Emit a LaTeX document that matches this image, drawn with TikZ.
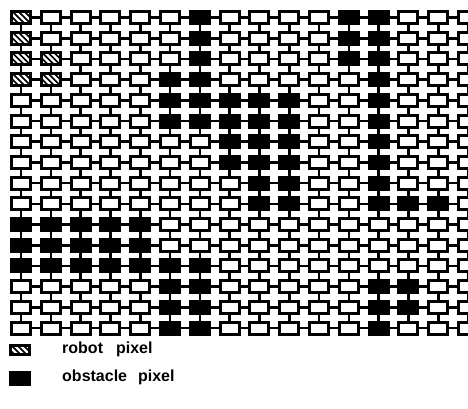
\documentclass[tikz,border=0pt]{standalone}
\usepackage{fontspec}
\setmainfont{Liberation Sans}
\begin{document}
\begin{tikzpicture}[x=1pt,y=-1pt,
  cell/.style={draw=black, line width=3pt, fill=white, rectangle,
    minimum width=19pt, minimum height=12pt, inner sep=0pt, outer sep=1.5pt},
  obst/.style={cell, fill=black},
  robotcell/.style={cell, fill=black, path picture={
      \foreach \k in {-3,...,4}{
        \draw[white, line width=2.3pt]
          ([xshift=\k*6pt-4pt, yshift=2pt]path picture bounding box.north west) -- ++(18pt,-18pt);
      }}},
  link/.style={line width=2.6pt, draw=black},
  legtext/.style={anchor=west, inner sep=0pt, font=\fontsize{16}{19}\selectfont\bfseries}]
\useasboundingbox (0,0) rectangle (468,408);
% obstacle and robot pixels
\foreach \p in {6-0,11-0,12-0, 6-1,11-1,12-1, 6-2,11-2,12-2,
  5-3,6-3,12-3, 5-4,6-4,7-4,8-4,9-4,12-4, 5-5,6-5,7-5,8-5,9-5,12-5,
  7-6,8-6,9-6,12-6, 7-7,8-7,9-7,12-7, 8-8,9-8,12-8, 8-9,9-9,12-9,13-9,14-9,
  0-10,1-10,2-10,3-10,4-10, 0-11,1-11,2-11,3-11,4-11,
  0-12,1-12,2-12,3-12,4-12,5-12,6-12, 5-13,6-13,12-13,13-13,
  5-14,6-14,12-14,13-14, 5-15,6-15,12-15}
  {\expandafter\xdef\csname obs\p\endcsname{1}}
\foreach \p in {0-0,0-1,0-2,0-3,1-2,1-3}
  {\expandafter\xdef\csname rob\p\endcsname{1}}
% cells
\foreach \r in {0,...,15}{
  \foreach \c in {0,...,15}{
    \pgfmathsetmacro{\px}{21+29.8*\c}
    \pgfmathsetmacro{\py}{17.5+20.7*\r}
    \ifcsname obs\c-\r\endcsname
      \node[obst] (c-\c-\r) at (\px,\py) {};
    \else\ifcsname rob\c-\r\endcsname
      \node[robotcell] (c-\c-\r) at (\px,\py) {};
    \else
      \node[cell] (c-\c-\r) at (\px,\py) {};
    \fi\fi
  }}
% horizontal links
\foreach \r in {0,...,15}{
  \foreach \c in {0,...,14}{
    \pgfmathtruncatemacro{\n}{\c+1}
    \draw[link] (c-\c-\r.east) -- (c-\n-\r.west);
  }}
% vertical links
\foreach \r in {0,...,14}{
  \foreach \c in {0,...,15}{
    \pgfmathtruncatemacro{\n}{\r+1}
    \draw[link] (c-\c-\r.south) -- (c-\c-\n.north);
  }}
% legend
\node[robotcell, minimum height=9pt] (legrob) at (20,350) {};
\node[obst] (legobs) at (20,378) {};
\node[legtext] (legrobt) at (62,349) {robot\hspace{13pt}pixel};
\node[legtext] (legobst) at (62,377) {obstacle\hspace{11pt}pixel};
\end{tikzpicture}
\end{document}
